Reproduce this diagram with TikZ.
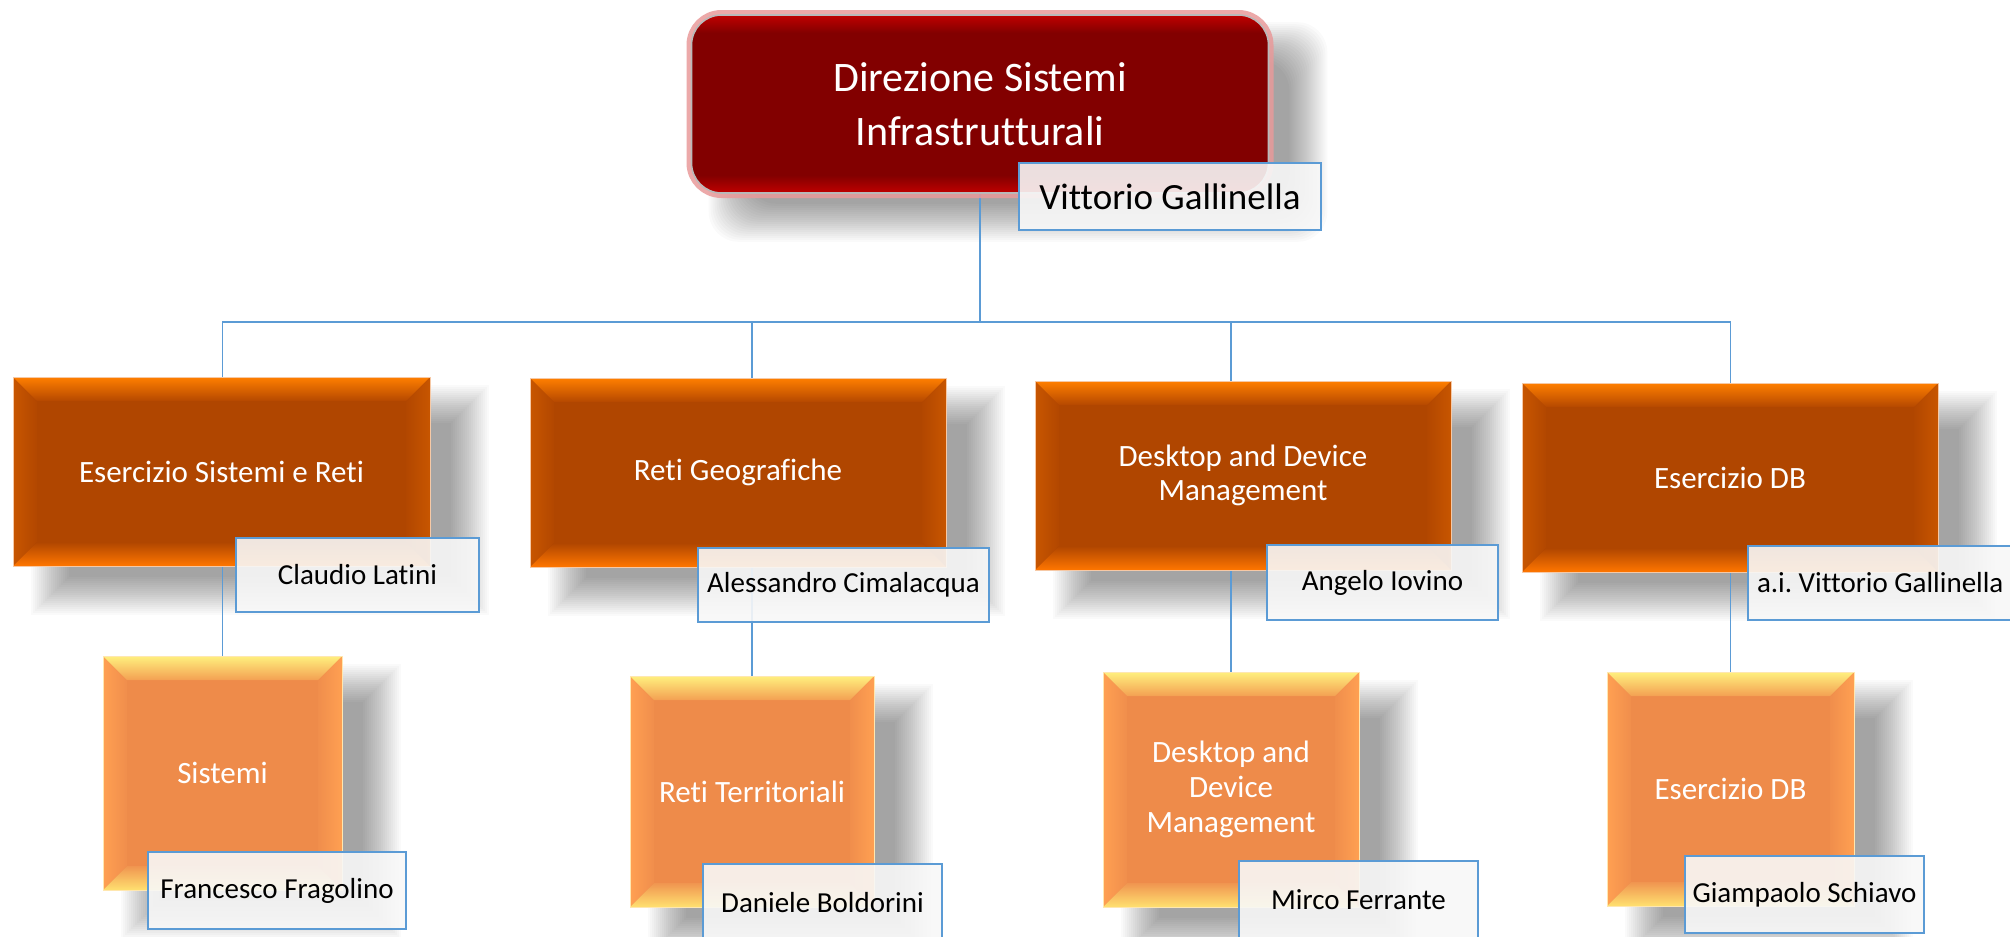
\documentclass[tikz,border=0pt]{standalone}
\usepackage{fontspec}
\setmainfont{Carlito}[Ligatures=NoCommon]
\usetikzlibrary{calc,backgrounds}
\definecolor{redA}{HTML}{C00000}
\definecolor{redB}{HTML}{820000}
\definecolor{glowpink}{HTML}{E99A9A}
\definecolor{oTop}{HTML}{FF7F00}
\definecolor{oTopIn}{HTML}{B54800}
\definecolor{oMid}{HTML}{B04600}
\definecolor{oSideOut}{HTML}{C85600}
\definecolor{oSideIn}{HTML}{B24700}
\definecolor{oBot}{HTML}{FF7600}
\definecolor{oBotIn}{HTML}{B04600}
\definecolor{oEdge}{HTML}{F6C9A6}
\definecolor{pTop}{HTML}{FFF07E}
\definecolor{pTopIn}{HTML}{F3A052}
\definecolor{pMid}{HTML}{EE8B4A}
\definecolor{pSideOut}{HTML}{FFA052}
\definecolor{pSideIn}{HTML}{F08E4C}
\definecolor{pBot}{HTML}{FFE070}
\definecolor{pBotIn}{HTML}{F09550}
\definecolor{pEdge}{HTML}{FFE7B0}
\definecolor{lineblue}{HTML}{5B9BD5}
\definecolor{lblfill}{HTML}{F8F8F8}
\pgfdeclareverticalshading{dsired}{100bp}{color(0bp)=(redA); color(25bp)=(redA); color(30bp)=(redB); color(70bp)=(redB); color(75bp)=(redA); color(100bp)=(redA)}
\newcommand{\fnTitle}{\fontsize{21}{27}\selectfont}
\newcommand{\fnVG}{\fontsize{18.5}{22}\selectfont}
\newcommand{\fnTwo}{\fontsize{15.5}{17}\selectfont}
\newcommand{\fnThree}{\fontsize{15.5}{17.5}\selectfont}
\newcommand{\fnLbl}{\fontsize{14.5}{17}\selectfont}
\newcommand{\softshadow}[2][]{%
  \foreach \i in {0,...,19}{%
    \pgfmathsetmacro{\e}{20-2*\i}%
    \fill[black,opacity=0.0185,#1] ($(#2.north west)+({38-(\e)},{28-(\e)})$) rectangle ($(#2.south east)+({38+\e},{28+\e})$);}}
\tikzset{
  bevel/.style n args={6}{path picture={
    \path (path picture bounding box.north west) coordinate (@nw)
          (path picture bounding box.north east) coordinate (@ne)
          (path picture bounding box.south west) coordinate (@sw)
          (path picture bounding box.south east) coordinate (@se);
    \fill[left color=#3, right color=#4] (@nw) -- ($(@nw)+(24,24)$) -- ($(@sw)+(24,-24)$) -- (@sw) -- cycle;
    \fill[left color=#4, right color=#3] (@ne) -- ($(@ne)+(-24,24)$) -- ($(@se)+(-24,-24)$) -- (@se) -- cycle;
    \fill[top color=#1, bottom color=#2] (@nw) -- (@ne) -- ($(@ne)+(-24,24)$) -- ($(@nw)+(24,24)$) -- cycle;
    \fill[top color=#6, bottom color=#5] (@sw) -- (@se) -- ($(@se)+(-24,-24)$) -- ($(@sw)+(24,-24)$) -- cycle;
  }},
  topbox/.style={rectangle, rounded corners=15pt, shade, shading=dsired,
    draw=gray!55, line width=0.8pt,
    preaction={draw=glowpink, line width=5pt, draw opacity=0.85},
    text=white, font=\fnTitle, align=center, inner sep=0pt},
  lvtwo/.style={rectangle, fill=oMid, draw=oEdge, line width=0.5pt,
    minimum width=208pt, minimum height=94.5pt, inner sep=0pt,
    text=white, font=\fnTwo, align=center,
    bevel={oTop}{oTopIn}{oSideOut}{oSideIn}{oBot}{oBotIn}},
  lvthree/.style={rectangle, fill=pMid, draw=pEdge, line width=0.5pt,
    inner sep=0pt, text=white, font=\fnThree, align=center,
    bevel={pTop}{pTopIn}{pSideOut}{pSideIn}{pBot}{pBotIn}},
  lbl/.style={rectangle, draw=lineblue, line width=1.1pt, fill=lblfill,
    fill opacity=0.9, text opacity=1, inner sep=0pt, font=\fnLbl, text=black},
  conn/.style={draw=lineblue, line width=0.7pt}
}
\begin{document}
\begin{tikzpicture}[x=0.5pt,y=-0.5pt]
\useasboundingbox (0,0) rectangle (2010,937);
\clip (0,0) rectangle (2010,937);

% top
\node[topbox, minimum width=288.5pt, minimum height=89pt] (top) at (980,104) {Direzione Sistemi\\Infrastrutturali};
\node[lbl, minimum width=151pt, minimum height=33.5pt, font=\fnVG] (topl) at (1170,196.5) {Vittorio Gallinella};

% level 2
\node[lvtwo, minimum width=208.5pt] (b1) at (221.5,471.5) {Esercizio Sistemi e Reti};
\node[lvtwo] (b2) at (738,472.5) {Reti Geografiche};
\node[lvtwo] (b3) at (1243,475.5) {Desktop and Device\\Management};
\node[lvtwo] (b4) at (1730,477.5) {Esercizio DB};

\node[lbl, minimum width=121.5pt, minimum height=37pt] (l1) at (357.5,575) {Claudio Latini};
\node[lbl, minimum width=145.5pt, minimum height=37pt] (l2) at (843.5,585) {Alessandro Cimalacqua};
\node[lbl, minimum width=115.5pt, minimum height=37.5pt] (l3) at (1382.5,582.5) {Angelo Iovino};
\node[lbl, minimum width=141pt, minimum height=37pt] (l4) at (1889,583) {\frenchspacing\makebox[132pt][l]{a.i. Vittorio Gallinella}};

% level 3
\node[lvthree, minimum width=119.5pt, minimum height=117pt] (c1) at (222.5,773) {Sistemi};
\node[lvthree, minimum width=122pt, minimum height=115.5pt] (c2) at (752,791.5) {Reti Territoriali};
\node[lvthree, minimum width=128pt, minimum height=117.5pt] (c3) at (1231,789.5) {Desktop and\\Device\\Management};
\node[lvthree, minimum width=123.5pt, minimum height=117pt] (c4) at (1730.5,789) {Esercizio DB};

\node[lbl, minimum width=129pt, minimum height=38.5pt] (m1) at (277,890.5) {Francesco Fragolino};
\node[lbl, minimum width=119.5pt, minimum height=38.5pt] (m2) at (822.5,902.5) {Daniele Boldorini};
\node[lbl, minimum width=119.5pt, minimum height=38.5pt] (m3) at (1358.5,899.5) {Mirco Ferrante};
\node[lbl, minimum width=119.5pt, minimum height=38.5pt] (m4) at (1804.5,894.5) {Giampaolo Schiavo};

\begin{pgfonlayer}{background}
  \fill[white] (0,0) rectangle (2010,937);
  \softshadow[rounded corners=15pt]{top}
  \foreach \n in {b1,b2,b3,b4,c1,c2,c3,c4}{\softshadow{\n}}
  \coordinate (bus) at (0,322);
  \foreach \i in {1,2,3,4}{%
    \draw[conn] (top.south) -- (top.south |- bus) -| (c\i.north |- b\i.north);
    \draw[conn] (b\i.south -| c\i.north) -- (c\i.north);
  }
\end{pgfonlayer}
\end{tikzpicture}
\end{document}
